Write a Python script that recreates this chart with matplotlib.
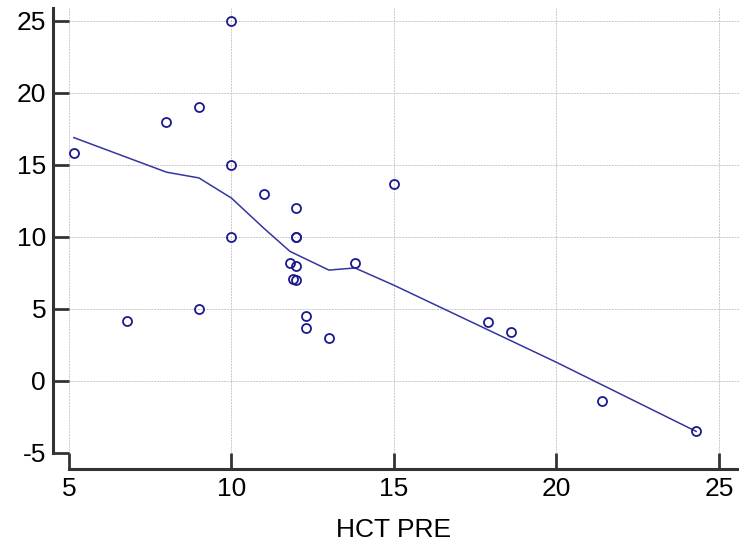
import numpy as np
import matplotlib
matplotlib.use('Agg')
import matplotlib.pyplot as plt

plt.rcParams['font.family'] = ['Liberation Sans', 'DejaVu Sans']
plt.rcParams['axes.unicode_minus'] = False

# scatter data
hct_pre = [5.15, 6.8, 8.0, 9.0, 9.0, 10.0, 10.0, 10.0, 11.0, 12.0, 12.0, 12.0,
           11.8, 12.0, 11.9, 12.0, 12.3, 12.3, 13.0, 13.8, 15.0, 17.9, 18.6,
           21.4, 24.3]
response = [15.8, 4.2, 18.0, 19.0, 5.0, 25.0, 15.0, 10.0, 13.0, 12.0, 10.0, 10.0,
            8.2, 8.0, 7.1, 7.0, 4.5, 3.7, 3.0, 8.2, 13.7, 4.1, 3.4,
            -1.4, -3.5]

# smoothed curve vertices
smooth_x = [5.15, 8.0, 9.0, 10.0, 11.0, 11.8, 13.0, 13.8, 15.0, 20.0, 24.3]
smooth_y = [16.9, 14.5, 14.1, 12.7, 10.6, 9.0, 7.7, 7.85, 6.65, 1.3, -3.5]

xticks = [5, 10, 15, 20, 25]
yticks = [-5, 0, 5, 10, 15, 20, 25]

fig = plt.figure(figsize=(7.39, 5.45), dpi=100)
ax = fig.add_axes([69 / 739, 92 / 545, 670 / 739, 445 / 545])

ax.plot(smooth_x, smooth_y, color='#3535a0', lw=1.1, zorder=2)
ax.plot(hct_pre, response, 'o', ms=6.5, mfc='none', mec='#1a1a8c', mew=1.3,
        zorder=3, clip_on=False)

ax.set_xlim(5, 25.62)
ax.set_ylim(-5, 25.9)
ax.set_xticks(xticks)
ax.set_yticks(yticks)
ax.grid(True, color='#c8c8c8', ls=(0, (2, 1)), lw=0.7)
ax.set_axisbelow(True)

# spines sit ~16 px outside the data area, ticks reach back in to it
for s in ['top', 'right']:
    ax.spines[s].set_visible(False)
for s in ['left', 'bottom']:
    ax.spines[s].set_position(('outward', 11.5))
    ax.spines[s].set_linewidth(2.2)
    ax.spines[s].set_color('#333333')

ax.tick_params(direction='in', length=11.5, width=2, color='#333333',
               labelsize=19)
ax.tick_params(axis='y', pad=5)
ax.tick_params(axis='x', pad=6)
ax.set_xlabel('HCT PRE', fontsize=19)
ax.xaxis.set_label_coords(0.485, -0.172)
ax.xaxis.label.set_va('center')

fig.savefig('out.png', dpi=100)
